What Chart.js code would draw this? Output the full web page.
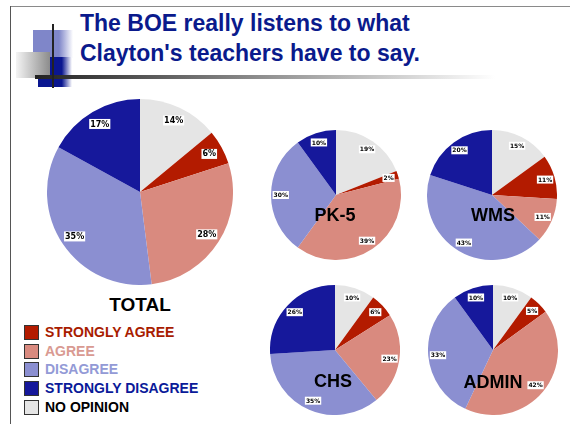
<!DOCTYPE html>
<html>
<head>
<meta charset="utf-8">
<script src="https://cdn.jsdelivr.net/npm/chart.js@4/dist/chart.umd.min.js"></script>
<style>
  body { margin: 0; background: #fff; }
  #page { position: relative; width: 570px; height: 424px; overflow: hidden; font-family: "Liberation Sans", Arial, sans-serif; }
  .abs { position: absolute; }
  .pieName { position: absolute; font-weight: bold; font-size: 18px; color: #000; transform: translate(-50%, -50%); white-space: nowrap; }
  #legend { position: absolute; left: 24px; top: 325px; }
  .row { height: 18.7px; display: flex; align-items: flex-start; }
  .box { width: 13px; height: 13px; border: 1px solid #333; margin-right: 6px; }
  .row span { font-weight: bold; font-size: 14px; line-height: 15px; }
</style>
</head>
<body>
<div id="page">
  <!-- slide decoration -->
  <div class="abs" style="left:10px;top:6px;width:560px;height:1px;background:#8a8a8a"></div>
  <div class="abs" style="left:10px;top:6px;width:1px;height:418px;background:#555"></div>
  <div class="abs" style="left:33px;top:30px;width:40px;height:28px;background:linear-gradient(to right,#7f86c9 65%,#fff)"></div>
  <div class="abs" style="left:38px;top:57px;width:34px;height:30px;background:linear-gradient(to right,#0a1690 70%,#fff)"></div>
  <div class="abs" style="left:16px;top:52px;width:34px;height:26px;background:linear-gradient(to right,#f4f4f4,#8c8c8c)"></div>
  <div class="abs" style="left:35px;top:75px;width:460px;height:4px;background:linear-gradient(to right,#222,#fff)"></div>
  <div class="abs" style="left:52px;top:24px;width:2px;height:64px;background:#222"></div>
  <div class="abs" style="left:80px;top:8px;font-weight:bold;font-size:23px;line-height:30px;color:#0a1a8c">The BOE really listens to what<br>Clayton's teachers have to say.</div>

  <canvas id="cTotal" class="abs" width="186" height="186" style="left:47px;top:99px"></canvas>
  <canvas id="cPk5" class="abs" width="130" height="130" style="left:271px;top:130px"></canvas>
  <canvas id="cWms" class="abs" width="130" height="130" style="left:427px;top:130px"></canvas>
  <canvas id="cChs" class="abs" width="130" height="130" style="left:270px;top:285px"></canvas>
  <canvas id="cAdmin" class="abs" width="130" height="130" style="left:428px;top:285px"></canvas>

  <div class="pieName" style="left:140px;top:305px;font-size:19px">TOTAL</div>
  <div class="pieName" style="left:335px;top:215px">PK-5</div>
  <div class="pieName" style="left:493px;top:215px">WMS</div>
  <div class="pieName" style="left:333px;top:381px">CHS</div>
  <div class="pieName" style="left:493px;top:382px">ADMIN</div>

  <div id="legend"></div>
</div>
<script>
// slices go clockwise from 12 o'clock in this order
const sliceOrder = ['NO OPINION', 'STRONGLY AGREE', 'AGREE', 'DISAGREE', 'STRONGLY DISAGREE'];
const totalValues = [14, 6, 28, 35, 17];
const pk5Values = [19, 2, 39, 30, 10];
const wmsValues = [15, 11, 11, 43, 20];
const chsValues = [10, 6, 23, 35, 26];
const adminValues = [10, 5, 42, 33, 10];
const legendOrder = ['STRONGLY AGREE', 'AGREE', 'DISAGREE', 'STRONGLY DISAGREE', 'NO OPINION'];

const sliceColor = {
  'NO OPINION': '#e5e5e5',
  'STRONGLY AGREE': '#b31b00',
  'AGREE': '#d98a7f',
  'DISAGREE': '#8b8fd1',
  'STRONGLY DISAGREE': '#16189b'
};
const legendText = {
  'NO OPINION': '#000',
  'STRONGLY AGREE': '#a81c00',
  'AGREE': '#d99a92',
  'DISAGREE': '#939ad6',
  'STRONGLY DISAGREE': '#0a1a99'
};

// percent labels on white boxes
const pctLabels = {
  id: 'pctLabels',
  afterDatasetsDraw(chart, args, opts) {
    const ctx = chart.ctx;
    const meta = chart.getDatasetMeta(0);
    const data = chart.data.datasets[0].data;
    ctx.save();
    ctx.font = 'bold ' + opts.size + 'px "DejaVu Sans", sans-serif';
    ctx.textAlign = 'center';
    ctx.textBaseline = 'middle';
    meta.data.forEach((arc, i) => {
      const p = arc.getProps(['x', 'y', 'startAngle', 'endAngle', 'outerRadius'], true);
      const a = (p.startAngle + p.endAngle) / 2;
      const r = p.outerRadius * 0.85;
      const x = p.x + Math.cos(a) * r;
      const y = p.y + Math.sin(a) * r;
      const txt = data[i] + '%';
      const w = ctx.measureText(txt).width;
      ctx.fillStyle = '#fff';
      ctx.fillRect(x - w / 2 - 1, y - opts.size / 2 - 1, w + 2, opts.size + 2);
      ctx.fillStyle = '#000';
      ctx.fillText(txt, x, y + 0.5);
    });
    ctx.restore();
  }
};

function makePie(id, values, labelSize) {
  new Chart(document.getElementById(id), {
    type: 'pie',
    data: {
      labels: sliceOrder,
      datasets: [{
        data: values,
        backgroundColor: sliceOrder.map(s => sliceColor[s]),
        borderWidth: 0,
        hoverOffset: 0
      }]
    },
    options: {
      responsive: false,
      animation: false,
      layout: { padding: 0 },
      plugins: {
        legend: { display: false },
        tooltip: { enabled: false },
        pctLabels: { size: labelSize }
      }
    },
    plugins: [pctLabels]
  });
}

makePie('cTotal', totalValues, 8);
makePie('cPk5', pk5Values, 6);
makePie('cWms', wmsValues, 6);
makePie('cChs', chsValues, 6);
makePie('cAdmin', adminValues, 6);

const legend = document.getElementById('legend');
legendOrder.forEach(name => {
  const row = document.createElement('div');
  row.className = 'row';
  row.innerHTML = '<div class="box" style="background:' + sliceColor[name] + '"></div>' +
    '<span style="color:' + legendText[name] + '">' + name + '</span>';
  legend.appendChild(row);
});
</script>
</body>
</html>
